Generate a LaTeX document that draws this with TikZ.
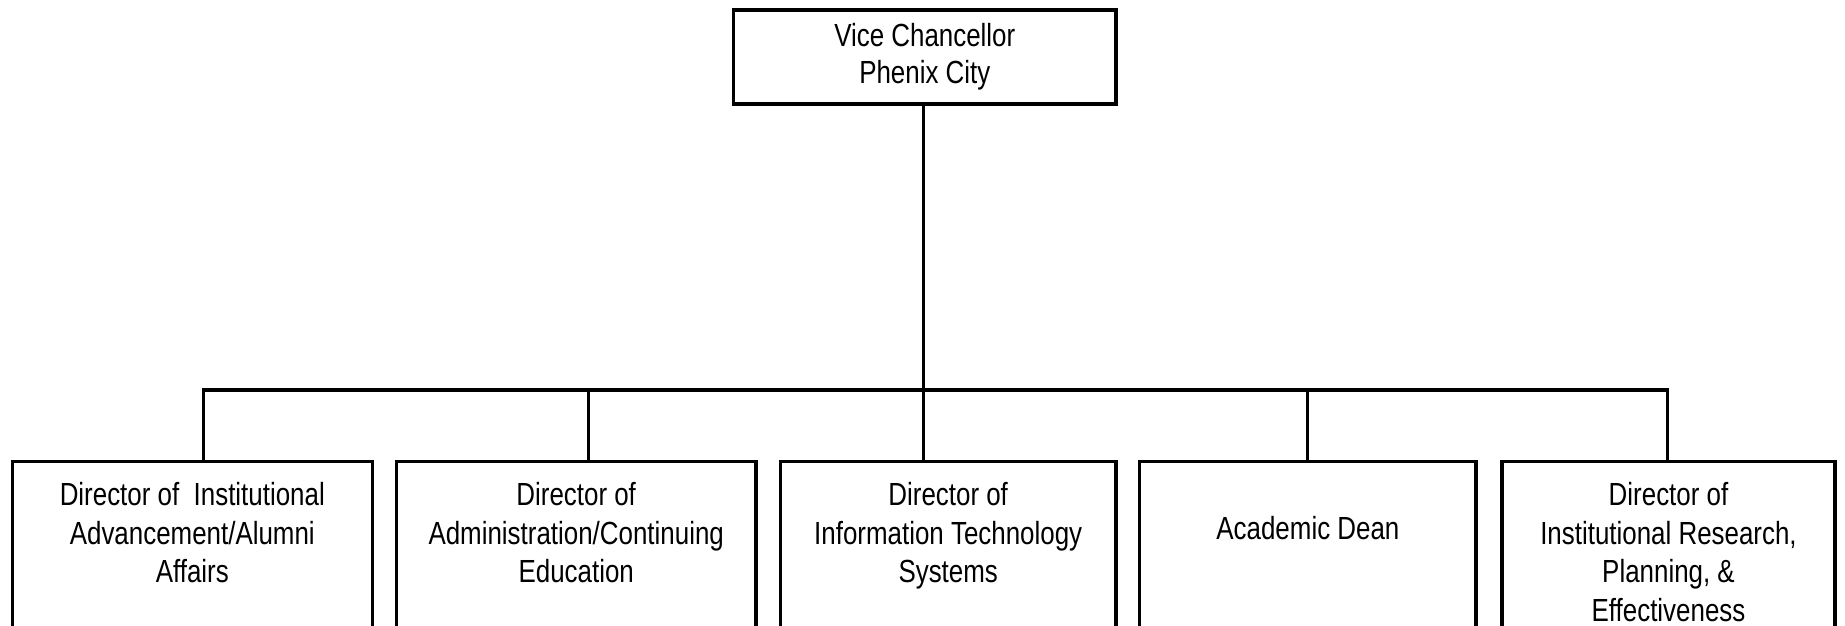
\documentclass[tikz,border=0pt]{standalone}
\usepackage{fontspec}
\setmainfont{Liberation Sans}[FakeStretch=0.81]
\tikzstyle{chief}=[rectangle, draw=black, line width=3.3pt, outer sep=0pt, align=center, font=\fontsize{32}{37}\selectfont, minimum width=382.5pt, minimum height=94pt]
\tikzstyle{post}=[rectangle, draw=black, line width=3.3pt, outer sep=0pt, anchor=north, align=center, inner xsep=0pt, inner ysep=21pt, text depth=100pt, font=\fontsize{32}{38.5}\selectfont]
\tikzstyle{wire}=[line width=3.3pt]

\begin{document}
\begin{tikzpicture}[x=1pt, y=1pt]
    \useasboundingbox (0,0) rectangle (1845,626);

    \node (vc) at (924.8, 569) [chief] {Vice Chancellor\\Phenix City};

    \node (adv)  at (192.3,  164.5) [post, minimum width=360pt] {Director of~~Institutional\\Advancement/Alumni\\Affairs};
    \node (adm)  at (576.2,  164.5) [post, minimum width=359.7pt] {Director of\\Administration/Continuing\\Education};
    \node (its)  at (948.2,  164.5) [post, minimum width=335.3pt] {Director of\\Information Technology\\Systems};
    \node (dean) at (1307.9, 164.5) [post, minimum width=336.2pt, text height=57.5pt] {Academic Dean};
    \node (ire)  at (1668.5, 164.5) [post, minimum width=333pt] {Director of\\Institutional Research,\\Planning, \&\\Effectiveness};

    \coordinate (hub) at (923.7,  236);
    \coordinate (j1)  at (203.3,  236);
    \coordinate (j2)  at (588.3,  236);
    \coordinate (j4)  at (1307.7, 236);
    \coordinate (j5)  at (1667.7, 236);

    \draw (vc.south -| hub) -- (hub) [wire];
    \draw (j1 |- adv.north) -- (j1) -- (j5) -- (j5 |- ire.north) [wire];
    \draw (j2) -- (j2 |- adm.north) [wire];
    \draw (hub) -- (hub |- its.north) [wire];
    \draw (j4) -- (j4 |- dean.north) [wire];
\end{tikzpicture}
\end{document}
